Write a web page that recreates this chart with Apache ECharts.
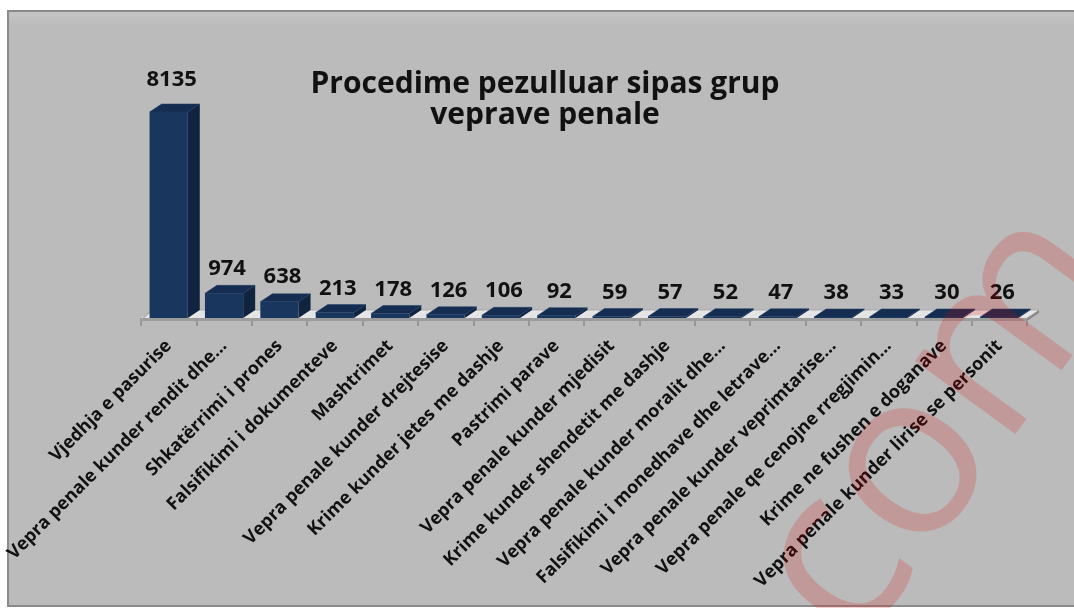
<!DOCTYPE html>
<html>
<head>
<meta charset="utf-8">
<script src="https://cdn.jsdelivr.net/npm/echarts@6/dist/echarts.min.js"></script>
<style>
  html, body { margin: 0; padding: 0; background: #fff; }
  #chart { width: 1074px; height: 608px; }
</style>
</head>
<body>
<div id="chart"></div>
<script>
var categories = [
    "Vjedhja e pasurise",
    "Vepra penale kunder rendit dhe…",
    "Shkatërrimi i prones",
    "Falsifikimi i dokumenteve",
    "Mashtrimet",
    "Vepra penale kunder drejtesise",
    "Krime kunder jetes me dashje",
    "Pastrimi parave",
    "Vepra penale kunder mjedisit",
    "Krime kunder shendetit me dashje",
    "Vepra penale kunder moralit dhe…",
    "Falsifikimi i monedhave dhe letrave…",
    "Vepra penale kunder veprimtarise…",
    "Vepra penale qe cenojne rregjimin…",
    "Krime ne fushen e doganave",
    "Vepra penale kunder lirise se personit"
];
var values = [8135, 974, 638, 213, 178, 126, 106, 92, 59, 57, 52, 47, 38, 33, 30, 26];
var titleText = "Procedime pezulluar sipas grup\nveprave penale";

var chart = echarts.init(document.getElementById("chart"));

// depth of the fake 3d
var DX = 12, DY = -8;
var FONT = "'Open Sans', sans-serif";

function renderFloor(params, api) {
    var i = api.value(0);
    var c = api.coord([i, 0]);
    var band = api.size([1, 0])[0];
    var xL = c[0] - band / 2, xR = c[0] + band / 2, y = c[1];
    var kids = [
        { type: "polygon", shape: { points: [[xL, y], [xL + DX, y + DY], [xR + DX, y + DY], [xR, y]] }, style: { fill: "#e6e6e6" } },
        { type: "line", shape: { x1: xL + DX, y1: y + DY, x2: xR + DX, y2: y + DY }, style: { stroke: "#a9a9a9", lineWidth: 1 } },
        { type: "rect", shape: { x: xL, y: y, width: band, height: 3 }, style: { fill: "#9c9c9c" } }
    ];
    if (i === 0) {
        kids.push({ type: "polygon", shape: { points: [[xL - 2, y + 3], [xL - 2 + DX, y + DY], [xL + DX, y + DY], [xL, y + 3]] }, style: { fill: "#a6a6a6" } });
    }
    if (i === categories.length - 1) {
        kids.push({ type: "polygon", shape: { points: [[xR, y], [xR + DX, y + DY], [xR + DX, y + DY + 3], [xR, y + 3]] }, style: { fill: "#8a8a8a" } });
    }
    return { type: "group", children: kids };
}

function renderBar(params, api) {
    var i = api.value(0), v = api.value(1);
    var base = api.coord([i, 0]);
    var top = api.coord([i, v]);
    var band = api.size([1, 0])[0];
    var w = band * 0.69;
    var x0 = base[0] - w / 2, x1 = x0 + w;
    var y0 = base[1], y1 = Math.min(top[1], base[1] - 1);
    var h = y0 - y1;
    return {
        type: "group",
        children: [
            { type: "polygon", shape: { points: [[x1, y0], [x1 + DX, y0 + DY], [x1 + DX, y1 + DY], [x1, y1]] }, style: { fill: "#10233f" } },
            { type: "rect", shape: { x: x0, y: y1, width: w, height: h }, style: { fill: "#18365e" } },
            { type: "polygon", shape: { points: [[x0, y1], [x0 + DX, y1 + DY], [x1 + DX, y1 + DY], [x1, y1]] }, style: { fill: "#142d50", stroke: "#1d3a63", lineWidth: 0.5 } },
            {
                type: "text",
                style: {
                    text: String(v),
                    x: base[0] + 3,
                    y: y1 - 13 - 0.04 * h,
                    align: "center",
                    verticalAlign: "bottom",
                    fontFamily: FONT,
                    fontWeight: "bold",
                    fontSize: 22,
                    fill: "#111"
                }
            }
        ]
    };
}

var option = {
    backgroundColor: "#ffffff",
    animation: false,
    title: {
        text: titleText,
        left: 540,
        top: 64,
        textAlign: "center",
        textStyle: { fontFamily: FONT, fontWeight: "bold", fontSize: 30, lineHeight: 31, color: "#111" }
    },
    graphic: [
        { type: "rect", z: -10, shape: { x: 8, y: 11, width: 1080, height: 595 }, style: { fill: "#bbbbbb", stroke: "#8a8a8a", lineWidth: 2 } },
        { type: "rect", z: -9, shape: { x: 9, y: 12, width: 1080, height: 14 }, style: { fill: { type: "linear", x: 0, y: 0, x2: 0, y2: 1, colorStops: [{ offset: 0, color: "#c4c4c4" }, { offset: 1, color: "#bbbbbb" }] } } },
        {
            type: "text",
            z: 100,
            x: 803,
            y: 614,
            rotation: 54 * Math.PI / 180,
            style: {
                text: "com",
                fontFamily: FONT,
                fontSize: 232,
                align: "left",
                verticalAlign: "middle",
                fill: "rgba(230,0,0,0.18)"
            }
        }
    ],
    grid: { left: 141, right: 47, top: 112, bottom: 290 },
    xAxis: {
        type: "category",
        data: categories,
        boundaryGap: true,
        axisLine: { show: false },
        axisTick: { show: true, length: 8, lineStyle: { color: "#8a8a8a", width: 1.5 } },
        axisLabel: { interval: 0, rotate: 45, margin: 25, fontFamily: FONT, fontWeight: "bold", fontSize: 18, color: "#111" }
    },
    yAxis: { type: "value", min: 0, max: 8135, show: false },
    series: [
        { type: "custom", renderItem: renderFloor, data: values.map(function (v, i) { return [i, v]; }), encode: { x: 0, y: 1 }, z: 1, silent: true },
        { type: "custom", renderItem: renderBar, data: values.map(function (v, i) { return [i, v]; }), encode: { x: 0, y: 1 }, z: 2 }
    ]
};

chart.setOption(option);
window.addEventListener("resize", function () {
    chart != null && chart.resize();
});
</script>
</body>
</html>
